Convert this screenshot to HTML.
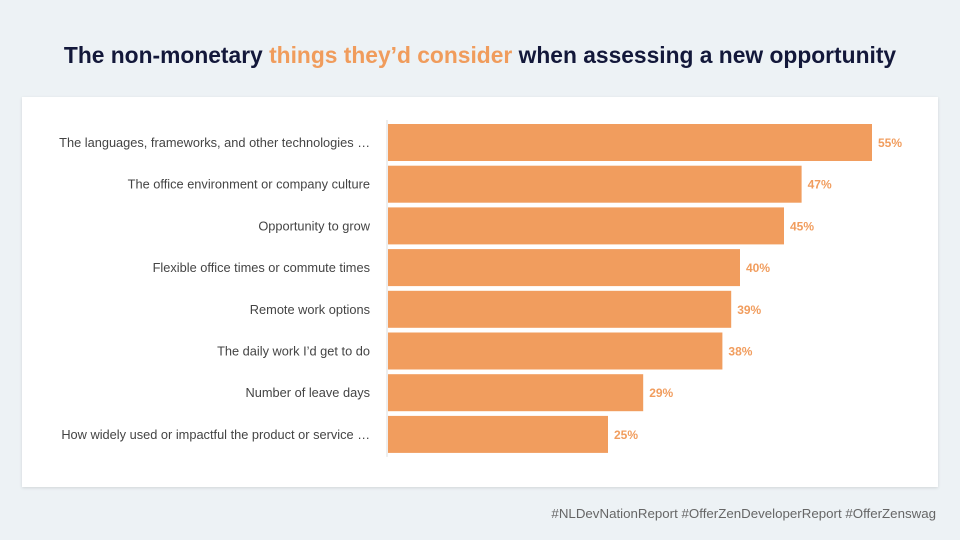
<!DOCTYPE html>
<html><head><meta charset="utf-8"><style>
body{margin:0;width:960px;height:540px;background:#edf2f5;font-family:"Liberation Sans",sans-serif;position:relative;overflow:hidden}
#title{position:absolute;top:42px;left:0;width:960px;text-align:center;font-size:22.8px;font-weight:bold;color:#13183a}
#title span{color:#f09c5c}
#card{position:absolute;left:22px;top:97px;width:916px;height:390px;background:#fff;box-shadow:0 1px 3px rgba(0,0,0,.12)}
#foot{position:absolute;right:24px;top:506px;font-size:13.3px;color:#666}
</style></head><body>
<div id="title">The non-monetary <span>things they’d consider</span> when assessing a new opportunity</div>
<div id="card"></div>
<svg id="chart" width="960" height="540" style="position:absolute;left:0;top:0"></svg>
<div id="foot">#NLDevNationReport #OfferZenDeveloperReport #OfferZenswag</div>
<script>
const categories=["The languages, frameworks, and other technologies …","The office environment or company culture","Opportunity to grow","Flexible office times or commute times","Remote work options","The daily work I’d get to do","Number of leave days","How widely used or impactful the product or service …"];
const values=[55,47,45,40,39,38,29,25];
const valueLabels=["55%","47%","45%","40%","39%","38%","29%","25%"];
const svg=document.getElementById('chart');const NS='http://www.w3.org/2000/svg';
const x0=388,k=8.8,top0=124,pitch=41.7,bh=37;
const xs=v=>x0+v*k;const ys=i=>top0+i*pitch;
const ax=document.createElementNS(NS,'line');


ax.setAttribute('x1',x0-1);ax.setAttribute('x2',x0-1);ax.setAttribute('y1',ys(0)-4);ax.setAttribute('y2',ys(categories.length-1)+bh+4);ax.setAttribute('stroke','#ddd');svg.appendChild(ax);
categories.forEach((c,i)=>{
 const r=document.createElementNS(NS,'rect');
 
 
 r.setAttribute('x',x0);r.setAttribute('y',ys(i));r.setAttribute('width',xs(values[i])-x0);r.setAttribute('height',bh);r.setAttribute('fill','#f19d5e');svg.appendChild(r);
 const t=document.createElementNS(NS,'text');
 
 
 t.setAttribute('x',370);t.setAttribute('y',ys(i)+bh/2+4.5);t.setAttribute('text-anchor','end');t.setAttribute('font-size','12.8');t.setAttribute('fill','#444');t.textContent=c;svg.appendChild(t);
 const v=document.createElementNS(NS,'text');
 
 
 v.setAttribute('x',xs(values[i])+6);v.setAttribute('y',ys(i)+bh/2+4.5);v.setAttribute('font-size','12');v.setAttribute('font-weight','bold');v.setAttribute('fill','#f19d5e');v.textContent=valueLabels[i];svg.appendChild(v);
});
</script>
</body></html>
